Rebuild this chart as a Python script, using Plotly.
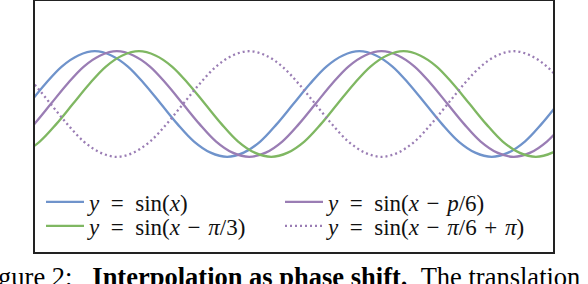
import plotly.graph_objects as go

# Curve samples at sixteenth-period steps (x in radians)
x_blue = [-0.785, -0.393, 0.0, 0.393, 0.785, 1.178, 1.571, 1.963, 2.356, 2.749,
          3.142, 3.534, 3.927, 4.320, 4.712, 5.105, 5.498, 5.890, 6.283, 6.676,
          7.069, 7.461, 7.854, 8.247, 8.639, 9.032, 9.425, 9.817, 10.210, 10.603,
          10.996, 11.388, 11.781, 12.174, 12.566, 12.959, 13.352]
y_blue = [-0.71, -0.38, 0, 0.38, 0.71, 0.92, 1, 0.92, 0.71, 0.38,
          0, -0.38, -0.71, -0.92, -1, -0.92, -0.71, -0.38, 0, 0.38,
          0.71, 0.92, 1, 0.92, 0.71, 0.38, 0, -0.38, -0.71, -0.92,
          -1, -0.92, -0.71, -0.38, 0, 0.38, 0.71]

x_purple = [-0.262, 0.131, 0.524, 0.916, 1.309, 1.702, 2.094, 2.487, 2.880, 3.272,
            3.665, 4.058, 4.451, 4.843, 5.236, 5.629, 6.021, 6.414, 6.807, 7.199,
            7.592, 7.985, 8.378, 8.770, 9.163, 9.556, 9.948, 10.341, 10.734, 11.126,
            11.519, 11.912, 12.305, 12.697, 13.090]
y_purple = [-0.71, -0.38, 0, 0.38, 0.71, 0.92, 1, 0.92, 0.71, 0.38,
            0, -0.38, -0.71, -0.92, -1, -0.92, -0.71, -0.38, 0, 0.38,
            0.71, 0.92, 1, 0.92, 0.71, 0.38, 0, -0.38, -0.71, -0.92,
            -1, -0.92, -0.71, -0.38, 0]

x_green = [-0.524, -0.131, 0.262, 0.654, 1.047, 1.440, 1.833, 2.225, 2.618, 3.011,
           3.403, 3.796, 4.189, 4.581, 4.974, 5.367, 5.760, 6.152, 6.545, 6.938,
           7.330, 7.723, 8.116, 8.508, 8.901, 9.294, 9.687, 10.079, 10.472, 10.865,
           11.257, 11.650, 12.043, 12.435, 12.828]
y_green = [-1, -0.92, -0.71, -0.38, 0, 0.38, 0.71, 0.92, 1, 0.92,
           0.71, 0.38, 0, -0.38, -0.71, -0.92, -1, -0.92, -0.71, -0.38,
           0, 0.38, 0.71, 0.92, 1, 0.92, 0.71, 0.38, 0, -0.38,
           -0.71, -0.92, -1, -0.92, -0.71]

x_dotted = [-0.262, 0.131, 0.524, 0.916, 1.309, 1.702, 2.094, 2.487, 2.880, 3.272,
            3.665, 4.058, 4.451, 4.843, 5.236, 5.629, 6.021, 6.414, 6.807, 7.199,
            7.592, 7.985, 8.378, 8.770, 9.163, 9.556, 9.948, 10.341, 10.734, 11.126,
            11.519, 11.912, 12.305, 12.697, 13.090]
y_dotted = [0.71, 0.38, 0, -0.38, -0.71, -0.92, -1, -0.92, -0.71, -0.38,
            0, 0.38, 0.71, 0.92, 1, 0.92, 0.71, 0.38, 0, -0.38,
            -0.71, -0.92, -1, -0.92, -0.71, -0.38, 0, 0.38, 0.71, 0.92,
            1, 0.92, 0.71, 0.38, 0]

S = "&nbsp;"
D = S * 2
O = S + "\u200a"  # operator spacing
labels = [
    f"<i>y</i>{D}={D}sin(<i>x</i>)",
    f"<i>y</i>{D}={D}sin(<i>x</i>{O}\u2212{O}<i>p</i>/6)",
    f"<i>y</i>{D}={D}sin(<i>x</i>{O}\u2212{O}<i>\u03c0</i>/3)",
    f"<i>y</i>{D}={D}sin(<i>x</i>{O}\u2212{O}<i>\u03c0</i>/6{O}+{O}<i>\u03c0</i>)",
]
caption = ("Figure 2:" + S * 3 + "<b>Interpolation as phase shift.</b>" + S * 2
           + "The translation")

BLUE = "#6F93CB"
PURPLE = "#9A7DB4"
GREEN = "#7FB762"
LW = 2.3

fig = go.Figure()
fig.add_trace(go.Scatter(x=x_blue, y=y_blue, mode="lines", name=labels[0],
                         line=dict(color=BLUE, width=LW, shape="spline"),
                         legend="legend"))
fig.add_trace(go.Scatter(x=x_purple, y=y_purple, mode="lines", name=labels[1],
                         line=dict(color=PURPLE, width=LW, shape="spline"),
                         legend="legend2"))
fig.add_trace(go.Scatter(x=x_green, y=y_green, mode="lines", name=labels[2],
                         line=dict(color=GREEN, width=LW, shape="spline"),
                         legend="legend3"))
fig.add_trace(go.Scatter(x=x_dotted, y=y_dotted, mode="lines", name=labels[3],
                         line=dict(color=PURPLE, width=LW, shape="spline",
                                   dash="2px,3px"),
                         legend="legend4"))

leg_common = dict(orientation="h", xanchor="left", yanchor="middle",
                  bgcolor="rgba(0,0,0,0)",
                  font=dict(family="Liberation Serif", size=23, color="#111"),
                  itemwidth=38)

col1 = 6 / 518
col2 = 245 / 518
row1 = (252 - 202) / 251
row2 = (252 - 226) / 251

fig.update_layout(
    width=588, height=284,
    margin=dict(l=35, r=35, t=1, b=32, autoexpand=False),
    plot_bgcolor="white", paper_bgcolor="white",
    showlegend=True,
    legend=dict(x=col1, y=row1, **leg_common),
    legend2=dict(x=col2, y=row1, **leg_common),
    legend3=dict(x=col1, y=row2, **leg_common),
    legend4=dict(x=col2, y=row2, **leg_common),
    xaxis=dict(range=[0.15, 12.45], showgrid=False, zeroline=False,
               showticklabels=False, ticks="", showline=True, mirror=True,
               linecolor="#222", linewidth=1.5, automargin=False),
    yaxis=dict(range=[-2.8, 1.95], showgrid=False, zeroline=False,
               showticklabels=False, ticks="", showline=True, mirror=True,
               linecolor="#222", linewidth=1.5, automargin=False),
    annotations=[dict(text=caption, xref="paper", yref="paper",
                      x=-61 / 518, y=-(277 - 252) / 251,
                      xanchor="left", yanchor="middle", showarrow=False,
                      font=dict(family="Liberation Serif", size=26.5, color="black"))],
)

fig.write_html("out.html", config={"displayModeBar": False},
               post_script="document.body.style.margin='0px';")
